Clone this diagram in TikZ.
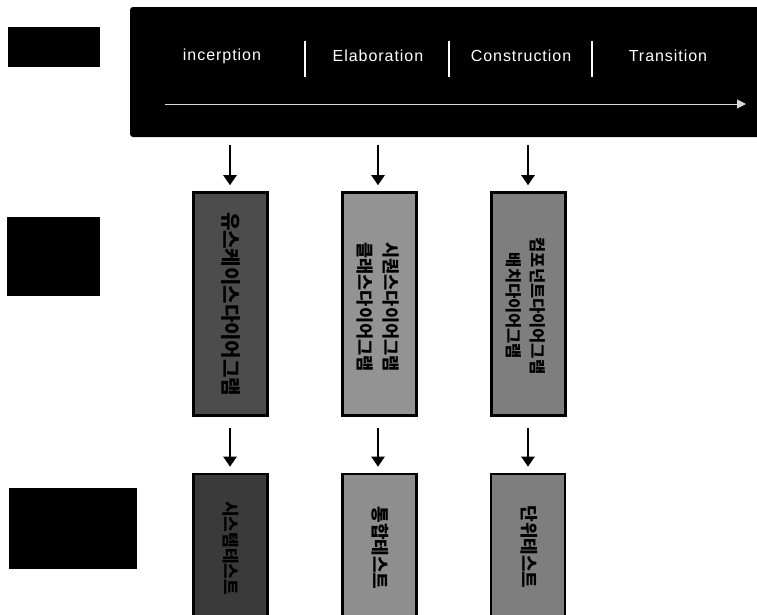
\documentclass[tikz,border=0pt]{standalone}
\usepackage{fontspec}
\setmainfont{Liberation Sans}
\newfontfamily\phasefont[LetterSpace=6]{Liberation Sans}
\newfontfamily\kr{Noto Sans CJK KR}
\usetikzlibrary{arrows.meta}
\definecolor{shadeA}{HTML}{4c4c4c}
\definecolor{shadeB}{HTML}{939393}
\definecolor{shadeC}{HTML}{7e7e7e}
\tikzset{
  tag/.style={fill=black, draw=none},
  phase/.style={text=white, font=\phasefont\fontsize{16}{18}\selectfont, inner sep=0pt},
  divider/.style={white, line width=1.6pt},
  flow/.style={black, line width=2.2pt, -{Triangle[width=13pt,length=10pt]}},
  artbox/.style={draw=black, line width=2.6pt, inner sep=0pt, minimum width=74pt},
  vlabel/.style={rotate=-90, text=black, align=center, inner sep=0pt,
    font=\kr\bfseries\fontsize{17.5}{26}\selectfont},
}
\begin{document}
\begin{tikzpicture}[x=1pt, y=-1pt]
  \useasboundingbox (0,0) rectangle (757,614);
  \clip (0,0) rectangle (757,614);
  \fill[white] (0,0) rectangle (757,614);

  % row markers on the left
  \fill[tag] (8,27) rectangle (100,67);
  \fill[tag] (7,217) rectangle (100,296);
  \fill[tag] (9,488) rectangle (137,569);

  % phase banner
  \fill[black, rounded corners=3pt] (130,7) rectangle (770,137);
  \node[phase] (p1) at (222,56) {incerption};
  \node[phase] (p2) at (378,56) {Elaboration};
  \node[phase] (p3) at (521,56) {Construction};
  \node[phase] (p4) at (668,56) {Transition};
  \draw[divider] (305,41) -- (305,77);
  \draw[divider] (449,41) -- (449,77);
  \draw[divider] (592,41) -- (592,77);
  \coordinate (tl0) at (165,104);
  \coordinate (tl1) at (746,104);
  \draw[white!85!black, line width=1pt, -{Triangle[width=9pt,length=9pt]}] (tl0) -- (tl1);

  % diagram boxes
  \node[artbox, fill=shadeA, minimum height=223pt] (d1) at (230.5,304) {};
  \node[artbox, fill=shadeB, minimum height=223pt] (d2) at (379.5,304) {};
  \node[artbox, fill=shadeC, minimum height=223pt] (d3) at (528.5,304) {};
  \node[vlabel, font=\kr\bfseries\fontsize{20}{26}\selectfont] (l1) at (231,304) {유스케이스다이어그램};
  \node[vlabel] (l2) at (378,307) {시퀀스다이어그램\\클래스다이어그램};
  \node[vlabel, font=\kr\bfseries\fontsize{16.5}{24}\selectfont] (l3) at (526,306) {컴포넌트다이어그램\\배치다이어그램};

  % test boxes
  \node[artbox, fill=shadeA!110, minimum height=150pt] (t1) at (230.5,549) {};
  \node[artbox, fill=shadeB!105, minimum height=150pt] (t2) at (379.5,549) {};
  \node[artbox, fill=shadeC, minimum height=150pt] (t3) at (528,549) {};
  \node[vlabel, font=\kr\bfseries\fontsize{17}{24}\selectfont] (m1) at (231,548) {시스템테스트};
  \node[vlabel, font=\kr\bfseries\fontsize{18}{24}\selectfont] (m2) at (380,548) {통합테스트};
  \node[vlabel, font=\kr\bfseries\fontsize{18}{24}\selectfont] (m3) at (529,547) {단위테스트};

  % arrows from the phases down to the diagrams
  \coordinate (a1) at (230,145);
  \coordinate (a2) at (378,145);
  \coordinate (a3) at (528,145);
  \draw[flow] (a1) -- ([yshift=6pt]d1.north -| a1);
  \draw[flow] (a2) -- ([yshift=6pt]d2.north -| a2);
  \draw[flow] (a3) -- ([yshift=6pt]d3.north -| a3);

  % arrows from the diagrams down to the tests
  \draw[flow] ([yshift=-11pt]d1.south -| a1) -- ([yshift=6pt]t1.north -| a1);
  \draw[flow] ([yshift=-11pt]d2.south -| a2) -- ([yshift=6pt]t2.north -| a2);
  \draw[flow] ([yshift=-11pt]d3.south -| a3) -- ([yshift=6pt]t3.north -| a3);
\end{tikzpicture}
\end{document}
